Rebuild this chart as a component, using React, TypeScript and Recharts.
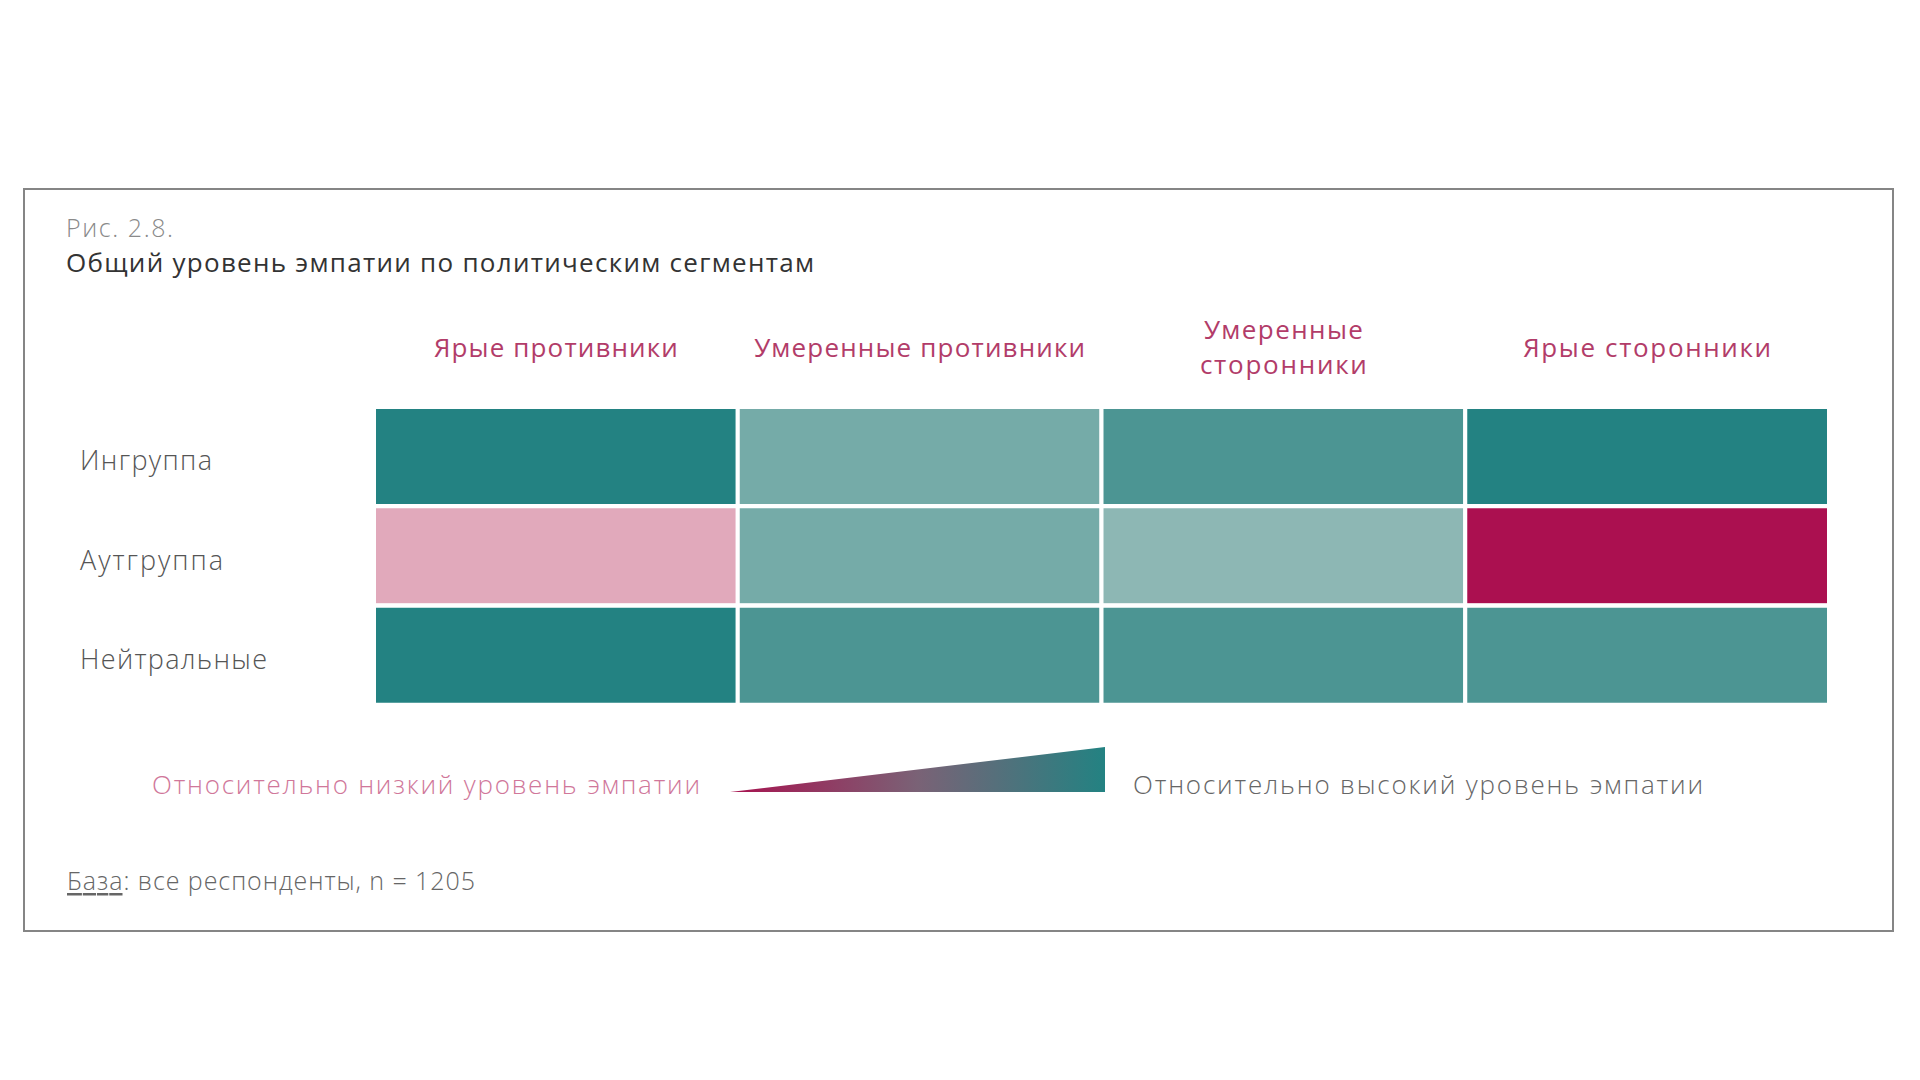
import { BarChart, Bar, Cell, XAxis, YAxis } from "recharts";

// categories
const segments = ["Ярые противники", "Умеренные противники", "Умеренные сторонники", "Ярые сторонники"];
const headerLines = [["Ярые противники"], ["Умеренные противники"], ["Умеренные", "сторонники"], ["Ярые сторонники"]];
const groups = ["Ингруппа", "Аутгруппа", "Нейтральные"];

// empathy level per segment, 1 = lowest ... 6 = highest
const ingroup = [6, 4, 5, 6];
const outgroup = [2, 4, 3, 1];
const neutral = [6, 5, 5, 5];

const levelColors: Record<number, string> = {
  1: "#ab1050",
  2: "#e1a9bb",
  3: "#8db7b4",
  4: "#75aba8",
  5: "#4c9593",
  6: "#238282",
};

const FONT = "'Open Sans', 'Noto Sans', sans-serif";

// target text widths so the layout matches the original typeface
const textWidths: Record<string, number> = {
  "Ярые противники": 244,
  "Умеренные противники": 331,
  "Умеренные": 159,
  "сторонники": 167,
  "Ярые сторонники": 248,
  "Ингруппа": 132,
  "Аутгруппа": 143,
  "Нейтральные": 187,
};

const rows = groups.map((g, i) => {
  const levels = [ingroup, outgroup, neutral][i];
  const row: any = { group: g, levels };
  segments.forEach((_, j) => {
    row[`s${j}`] = 1; // every segment gets an equal share of the row
  });
  return row;
});

const HeaderTick = (props: any) => {
  const { x, payload } = props;
  const lines = headerLines[Math.floor(payload.value)];
  const ys = lines.length === 1 ? [347] : [329, 364];
  return (
    <g>
      {lines.map((l, k) => (
        <text
          key={k}
          x={x}
          y={ys[k]}
          textAnchor="middle"
          dominantBaseline="central"
          fontSize={26}
          fontWeight={500}
          fill="#b23c69"
          fontFamily={FONT}
          textLength={textWidths[l]}
          lengthAdjust="spacing"
        >
          {l}
        </text>
      ))}
    </g>
  );
};

const RowTick = (props: any) => {
  const { y, payload } = props;
  return (
    <text
      x={80}
      y={y + 3}
      dominantBaseline="central"
      fontSize={27}
      fontWeight={300}
      fill="#555"
      fontFamily={FONT}
      textLength={textWidths[payload.value]}
      lengthAdjust="spacing"
    >
      {payload.value}
    </text>
  );
};

export default function App() {
  return (
    <div style={{ position: "absolute", left: 0, top: 0, width: 1920, height: 1080, background: "#fff", fontFamily: FONT }}>
      <div
        style={{
          position: "absolute",
          left: 23,
          top: 188,
          width: 1871,
          height: 744,
          border: "2px solid #858585",
          boxSizing: "border-box",
        }}
      />
      <div style={{ position: "absolute", left: 0, top: 0 }}>
        <BarChart
          width={1920}
          height={1080}
          data={rows}
          layout="vertical"
          margin={{ top: 0, right: 91, bottom: 375, left: 0 }}
          barCategoryGap={0}
          barGap={0}
        >
          <XAxis
            type="number"
            orientation="top"
            domain={[0, 4]}
            ticks={[0.5, 1.5, 2.5, 3.5]}
            interval={0}
            height={407}
            axisLine={false}
            tickLine={false}
            tick={<HeaderTick />}
          />
          <YAxis type="category" dataKey="group" width={374} axisLine={false} tickLine={false} tick={<RowTick />} />
          {segments.map((s, j) => (
            <Bar key={s} dataKey={`s${j}`} name={s} stackId="a" stroke="#fff" strokeWidth={4} isAnimationActive={false}>
              {rows.map((r, i) => (
                <Cell key={i} fill={levelColors[r.levels[j]]} />
              ))}
            </Bar>
          ))}
        </BarChart>
      </div>
      <svg width={1920} height={1080} style={{ position: "absolute", left: 0, top: 0, pointerEvents: "none" }} fontFamily={FONT}>
        <defs>
          <linearGradient id="empathy" x1="0" y1="0" x2="1" y2="0">
            <stop offset="0%" stopColor="#a8124f" />
            <stop offset="50%" stopColor="#7a6276" />
            <stop offset="100%" stopColor="#238282" />
          </linearGradient>
        </defs>
        <text x={66} y={227} dominantBaseline="central" fontSize={25} fontWeight={300} fill="#8a8a8a" textLength={107} lengthAdjust="spacing">
          Рис. 2.8.
        </text>
        <text x={66} y={262} dominantBaseline="central" fontSize={26} fontWeight={400} fill="#333" textLength={748} lengthAdjust="spacing">
          Общий уровень эмпатии по политическим сегментам
        </text>
        <text x={152} y={784} dominantBaseline="central" fontSize={26} fontWeight={300} fill="#d0779a" textLength={548} lengthAdjust="spacing">
          Относительно низкий уровень эмпатии
        </text>
        <polygon points="730,792 1105,747 1105,792" fill="url(#empathy)" />
        <text x={1133} y={784} dominantBaseline="central" fontSize={26} fontWeight={300} fill="#666" textLength={570} lengthAdjust="spacing">
          Относительно высокий уровень эмпатии
        </text>
        <text x={67} y={880} dominantBaseline="central" fontSize={25} fontWeight={300} fill="#666" textLength={408} lengthAdjust="spacing">
          <tspan style={{ textDecoration: "underline" }}>База</tspan>: все респонденты, n = 1205
        </text>
      </svg>
    </div>
  );
}
